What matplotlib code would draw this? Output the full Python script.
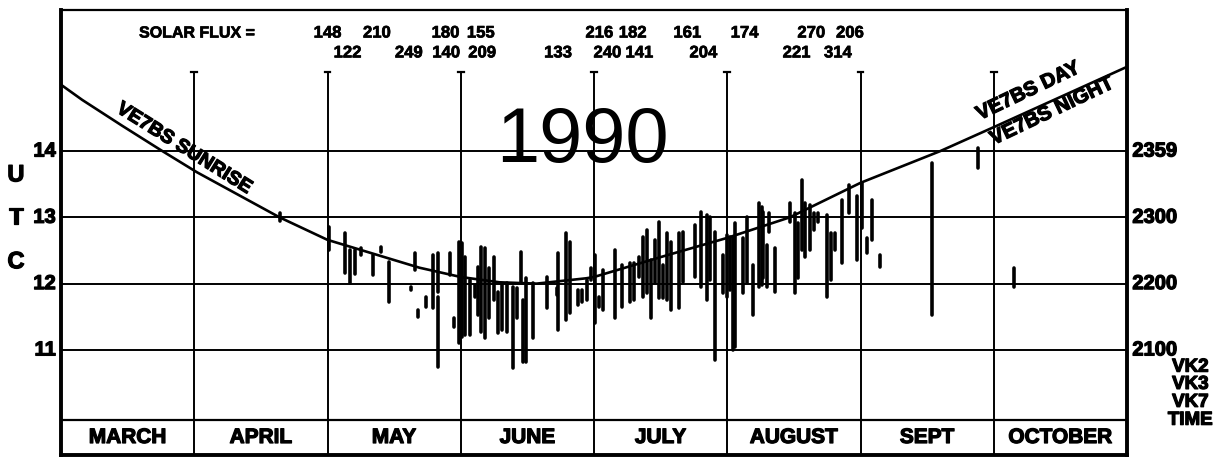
import matplotlib
matplotlib.use("Agg")
import matplotlib.pyplot as plt
import matplotlib.patheffects as pe

plt.rcParams['font.family'] = ['Liberation Sans', 'DejaVu Sans']

# ---------------- data ----------------
months = ["MARCH", "APRIL", "MAY", "JUNE", "JULY", "AUGUST", "SEPT", "OCTOBER"]
utc_hours = [11, 12, 13, 14]
utc_labels = ["11", "12", "13", "14"]
vk_labels = ["2100", "2200", "2300", "2359"]
vk_footer = ["VK2", "VK3", "VK7", "TIME"]

# solar flux values and their dates (months after 1 March)
flux_top = [148, 210, 180, 155, 216, 182, 161, 174, 270, 206]
flux_top_date = [2.00, 2.37, 2.885, 3.15, 4.04, 4.29, 4.70, 5.13, 5.63, 5.92]
flux_bot = [122, 249, 140, 209, 133, 240, 141, 204, 221, 314]
flux_bot_date = [2.15, 2.61, 2.89, 3.16, 3.73, 4.10, 4.34, 4.82, 5.52, 5.83]

# VE7BS sunrise curve (UTC hours)
sunrise_date = [0.0, 0.16, 0.46, 0.76, 1.02, 1.64, 2.00, 2.69, 3.00, 3.29,
                3.57, 3.94, 4.00, 4.50, 5.00, 5.47, 6.00, 6.60, 7.00, 8.00]
sunrise_utc = [15.00, 14.77, 14.38, 14.00, 13.68, 13.00, 12.66, 12.24, 12.10, 12.02,
               12.00, 12.08, 12.10, 12.40, 12.69, 13.00, 13.52, 14.00, 14.36, 15.27]

# openings (date in months after 1 March, start/end UTC hours)
bar_date = [1.64, 2.01, 2.13, 2.17, 2.21, 2.25, 2.34, 2.40, 2.46, 2.63,
            2.66, 2.68, 2.74, 2.79, 2.83, 2.83, 2.92, 2.95, 2.99, 3.01,
            3.03, 3.07, 3.11, 3.13, 3.15, 3.18, 3.21, 3.25, 3.28, 3.31,
            3.35, 3.39, 3.42, 3.45, 3.47, 3.49, 3.54, 3.65, 3.72, 3.73,
            3.79, 3.82, 3.88, 3.91, 3.95, 3.98, 4.01, 4.04, 4.07, 4.16,
            4.21, 4.27, 4.30, 4.34, 4.37, 4.40, 4.43, 4.46, 4.49, 4.52,
            4.55, 4.58, 4.64, 4.67, 4.76, 4.80, 4.85, 4.87, 4.91, 4.97,
            5.00, 5.02, 5.04, 5.06, 5.12, 5.15, 5.19, 5.24, 5.26, 5.27,
            5.31, 5.30, 5.36, 5.47, 5.51, 5.53, 5.56, 5.58, 5.62, 5.65,
            5.68, 5.75, 5.78, 5.81, 5.86, 5.91, 5.97, 6.01, 6.05, 6.09,
            6.15, 6.54, 6.88, 7.15]
bar_top = [13.07, 12.85, 12.76, 12.51, 12.51, 12.54, 12.43, 12.55, 12.33, 11.95,
           12.46, 11.60, 11.80, 12.43, 12.46, 11.80, 12.46, 11.48, 12.63, 12.61,
           12.40, 12.06, 11.98, 12.25, 12.55, 12.54, 12.24, 12.40, 11.87, 11.98,
           12.01, 11.95, 11.93, 12.48, 11.75, 12.09, 12.01, 12.10, 11.93, 12.46,
           12.76, 12.63, 11.90, 11.90, 12.06, 12.24, 12.43, 11.80, 12.21, 12.51,
           12.28, 12.31, 12.31, 12.40, 12.70, 12.81, 12.36, 12.66, 12.93, 12.28,
           12.76, 12.63, 12.76, 12.78, 12.88, 13.08, 13.04, 13.01, 12.78, 12.43,
           12.73, 12.70, 12.70, 12.91, 12.69, 13.01, 12.28, 13.22, 13.16, 13.08,
           13.07, 12.58, 12.54, 13.22, 13.07, 12.91, 13.56, 13.22, 13.19, 13.07,
           13.07, 13.04, 12.76, 12.76, 13.26, 13.49, 13.32, 13.52, 12.69, 13.26,
           12.43, 13.82, 14.05, 12.24]
bar_bottom = [12.94, 12.51, 12.16, 12.01, 12.15, 12.43, 12.13, 12.48, 11.72, 11.90,
              12.21, 11.50, 11.65, 11.63, 11.87, 10.74, 12.13, 11.35, 11.11, 11.20,
              11.23, 11.23, 11.80, 11.53, 11.27, 11.18, 11.48, 11.75, 11.26, 11.30,
              11.27, 10.73, 11.48, 12.02, 10.82, 10.82, 11.18, 11.63, 11.83, 11.30,
              11.45, 11.56, 11.68, 11.72, 11.75, 12.06, 11.41, 11.65, 11.60, 11.48,
              11.65, 11.72, 11.75, 12.10, 11.80, 11.86, 11.48, 12.01, 11.78, 11.78,
              11.75, 11.60, 11.63, 12.02, 12.10, 11.95, 11.75, 12.06, 10.85, 11.86,
              11.80, 11.90, 11.00, 11.04, 11.86, 12.01, 11.53, 11.95, 11.98, 12.09,
              12.78, 11.95, 11.87, 12.93, 11.86, 12.09, 12.51, 12.40, 12.51, 12.81,
              12.93, 11.80, 12.06, 12.51, 12.31, 13.07, 12.36, 12.84, 12.46, 12.66,
              12.25, 11.53, 13.74, 11.95]

# ---------------- figure ----------------
W, H = 1222, 458
fig = plt.figure(figsize=(W / 100, H / 100), dpi=100)
fig.patch.set_facecolor("white")
ax = fig.add_axes([61 / W, 3 / H, (1127 - 61) / W, (455 - 10) / H])
YMIN, YMAX = 9.415, 16.127
ROW_TOP = 9.943
LINE_TOP = 15.19
ax.set_xlim(0, 8)
ax.set_ylim(YMIN, YMAX)
ax.set_xticks([])
ax.set_yticks([])
for side, lw in (("left", 2.8), ("bottom", 2.8), ("right", 2.8), ("top", 1.6)):
    ax.spines[side].set_linewidth(lw)
    ax.spines[side].set_color("black")

heavy = [pe.withStroke(linewidth=0.9, foreground="black")]
heavy_small = [pe.withStroke(linewidth=0.5, foreground="black")]

# grid
for h in utc_hours:
    ax.plot([0, 8], [h, h], color="black", lw=1.4, zorder=2)
ax.plot([0, 8], [ROW_TOP, ROW_TOP], color="black", lw=1.6, zorder=2)
for i in range(1, len(months)):
    ax.plot([i, i], [YMIN, LINE_TOP], color="black", lw=1.4, zorder=2)
    ax.plot([i - 0.022, i + 0.022], [LINE_TOP, LINE_TOP], color="black", lw=1.6, zorder=2)

# month labels
for i, name in enumerate(months):
    ax.text(i + 0.5, (YMIN + ROW_TOP) / 2, name, ha="center", va="center",
            fontsize=15, fontweight="bold", path_effects=heavy)

# sunrise curve
ax.plot(sunrise_date, sunrise_utc, color="black", lw=1.9, zorder=3)

# openings
vl = ax.vlines(bar_date, bar_bottom, bar_top, colors="black", lw=2.6, zorder=4)
vl.set_capstyle("round")

# big year
ax.text(3.915, 14.14, "1990", ha="center", va="center", fontsize=56,
        fontweight="normal", zorder=5)

# curve annotations
ax.text(0.924, 14.03, "VE7BS SUNRISE", rotation=-32, rotation_mode="anchor",
        ha="center", va="center", fontsize=14, fontweight="bold", path_effects=heavy)
ax.text(7.258, 14.905, "VE7BS DAY", rotation=25.5, rotation_mode="anchor",
        ha="center", va="center", fontsize=14.5, fontweight="bold", path_effects=heavy)
ax.text(7.438, 14.603, "VE7BS NIGHT", rotation=25.5, rotation_mode="anchor",
        ha="center", va="center", fontsize=14.5, fontweight="bold", path_effects=heavy)

# solar flux
ax.text(0.586, 15.78, "SOLAR FLUX =", ha="left", va="center", fontsize=11.5,
        fontweight="bold", path_effects=heavy_small)
for v, d in zip(flux_top, flux_top_date):
    ax.text(d, 15.78, str(v), ha="center", va="center", fontsize=12,
            fontweight="bold", path_effects=heavy_small)
for v, d in zip(flux_bot, flux_bot_date):
    ax.text(d, 15.48, str(v), ha="center", va="center", fontsize=12,
            fontweight="bold", path_effects=heavy_small)

# left axis labels
for h, lab in zip(utc_hours, utc_labels):
    ax.text(-0.04, h, lab, ha="right", va="center", fontsize=14.5, fontweight="bold",
            clip_on=False, path_effects=heavy)
for ch, h in zip("UTC", [13.64, 13.0, 12.33]):
    ax.text(-0.338, h, ch, ha="center", va="center", fontsize=17, fontweight="bold",
            clip_on=False, path_effects=heavy)

# right axis labels
for h, lab in zip(utc_hours, vk_labels):
    ax.text(8.04, h, lab, ha="left", va="center", fontsize=14.5, fontweight="bold",
            clip_on=False, path_effects=heavy)
for lab, h in zip(vk_footer, [10.74, 10.48, 10.21, 9.94]):
    ax.text(8.475, h, lab, ha="center", va="center", fontsize=13.5, fontweight="bold",
            clip_on=False, path_effects=heavy)

fig.savefig("out.png", dpi=100, facecolor="white")
